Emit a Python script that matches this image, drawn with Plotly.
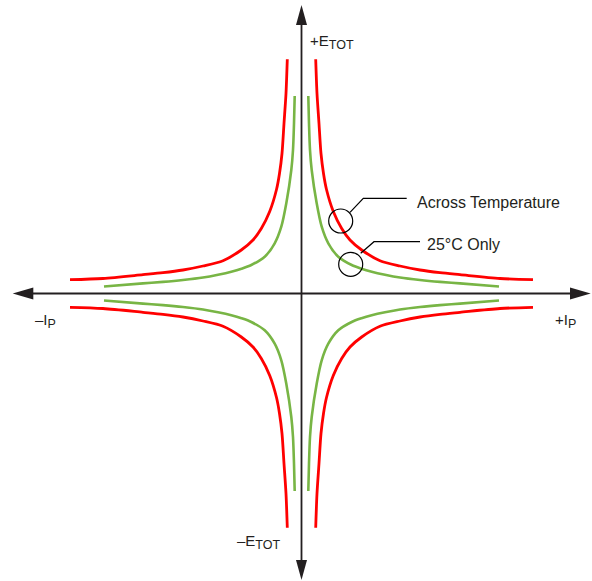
import plotly.graph_objects as go

# Curve magnitudes (first quadrant; mirrored into the others)
red_dx = [14.2, 15.5, 17.5, 19.5, 22.0, 25.0, 31.8, 40.2, 48.5, 60.2, 78.5, 98.5, 118.5, 138.5, 158.5, 198.5, 231.5]
red_dy = [234.2, 200.0, 170.0, 140.0, 120.0, 104.0, 82.0, 65.0, 53.5, 43.5, 32.8, 27.5, 23.5, 20.8, 18.8, 15.0, 13.8]
green_dx = [6.8, 7.5, 8.5, 10.2, 15.2, 20.2, 26.8, 36.8, 50.2, 60.0, 70.2, 83.5, 98.5, 118.5, 138.5, 158.5, 197.5]
green_dy = [197.5, 170.0, 143.5, 123.5, 90.2, 66.8, 50.2, 36.8, 28.5, 24.8, 21.8, 18.8, 16.0, 13.5, 11.6, 10.1, 7.0]
quadrants = [(1, 1), (-1, 1), (-1, -1), (1, -1)]

axis_main = ["+E", "–E", "–I", "+I"]
axis_sub = ["TOT", "TOT", "P", "P"]
callout_labels = ["Across Temperature", "25°C Only"]

RED = "#FF0000"
GREEN = "#78B545"
AX = "#231F20"
FONT = "Liberation Sans, Arial, sans-serif"

fig = go.Figure()
for sx, sy in quadrants:
    fig.add_trace(go.Scatter(x=[sx * v for v in red_dx], y=[sy * v for v in red_dy],
                             mode="lines", line=dict(color=RED, width=2.8, shape="spline", smoothing=0.8),
                             hoverinfo="skip", showlegend=False))
    fig.add_trace(go.Scatter(x=[sx * v for v in green_dx], y=[sy * v for v in green_dy],
                             mode="lines", line=dict(color=GREEN, width=2.6, shape="spline", smoothing=0.8),
                             hoverinfo="skip", showlegend=False))

shapes = []
# axes
shapes.append(dict(type="line", x0=0, x1=0, y0=-272, y1=272, line=dict(color=AX, width=1.8)))
shapes.append(dict(type="line", x0=-272, x1=272, y0=0, y1=0, line=dict(color=AX, width=1.8)))
# arrow heads
shapes.append(dict(type="path", path="M 0 288.5 L -5.5 268.5 L 5.5 268.5 Z", fillcolor=AX, line=dict(width=0)))
shapes.append(dict(type="path", path="M 0 -286.5 L -5.5 -266.5 L 5.5 -266.5 Z", fillcolor=AX, line=dict(width=0)))
shapes.append(dict(type="path", path="M 289.2 0 L 268.5 -6 L 268.5 6 Z", fillcolor=AX, line=dict(width=0)))
shapes.append(dict(type="path", path="M -288.8 0 L -268.2 -6 L -268.2 6 Z", fillcolor=AX, line=dict(width=0)))
# callout circles and leaders
shapes.append(dict(type="circle", x0=39.2 - 12, x1=39.2 + 12, y0=72.5 - 12, y1=72.5 + 12,
                   line=dict(color="black", width=1.2)))
shapes.append(dict(type="circle", x0=49.2 - 12, x1=49.2 + 12, y0=29.2 - 12, y1=29.2 + 12,
                   line=dict(color="black", width=1.2)))
shapes.append(dict(type="path", path="M 48.5 81.2 L 61.8 95.2 L 105.2 95.2",
                   line=dict(color="black", width=1.2)))
shapes.append(dict(type="path", path="M 59.2 40.2 L 72.5 51.8 L 118.5 51.8",
                   line=dict(color="black", width=1.2)))

main_pos = [(6.5, 252.0), (-66.2, -248.0), (-268.5, -27.5), (251.5, -27.5)]

annotations = []
for m, s, (x, y) in zip(axis_main, axis_sub, main_pos):
    annotations.append(dict(x=x, y=y,
                            text=f"{m}<sub><span style='font-size:12.5px'>{s}</span></sub>",
                            font=dict(family=FONT, size=15, color=AX)))
annotations.append(dict(x=113.7, y=91.5, text=callout_labels[0], font=dict(family=FONT, size=16, color=AX)))
annotations.append(dict(x=123.7, y=48.8, text=callout_labels[1], font=dict(family=FONT, size=16, color=AX)))
for a in annotations:
    a.update(xref="x", yref="y", xanchor="left", yanchor="middle", showarrow=False)

fig.update_layout(
    width=592, height=581, autosize=False,
    margin=dict(l=0, r=0, t=0, b=0),
    paper_bgcolor="white", plot_bgcolor="white",
    xaxis=dict(range=[-301.5, 290.5], visible=False, fixedrange=True),
    yaxis=dict(range=[-287.5, 293.5], visible=False, fixedrange=True),
    shapes=shapes, annotations=annotations,
)
fig.write_html("out.html", config={"displayModeBar": False},
               post_script="document.body.style.margin='0px';")
